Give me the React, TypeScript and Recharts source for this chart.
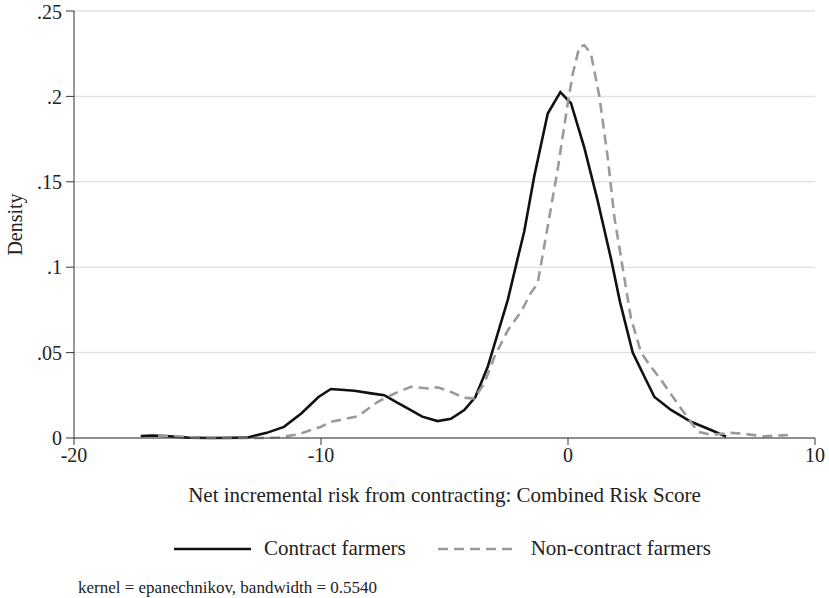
import React from "react";
import {
  LineChart,
  Line,
  XAxis,
  YAxis,
  CartesianGrid,
} from "recharts";

// kernel density, contract farmers
const contractX = [
  -17.3, -16.8, -16.3, -15.4, -14.5, -13.0, -12.2, -11.5, -10.8, -10.1, -9.6,
  -8.65, -7.9, -7.44, -6.95, -6.49, -5.9, -5.28, -4.74, -4.2, -3.75, -3.25,
  -2.85, -2.44, -2.04, -1.77, -1.37, -0.82, -0.31, 0.12, 0.66, 1.2, 1.74, 2.1,
  2.62, 3.09, 3.5, 4.17, 4.98, 5.79, 6.4,
];
const contractY = [
  0.0012, 0.0015, 0.0012, 0.0002, 0, 0.0002, 0.003, 0.0065, 0.0144, 0.024,
  0.0287, 0.0277, 0.026, 0.0251, 0.021, 0.0174, 0.0125, 0.0099, 0.0112, 0.0164,
  0.024, 0.0417, 0.061, 0.0807, 0.105, 0.121, 0.153, 0.19, 0.2025, 0.196, 0.17,
  0.139, 0.105, 0.08, 0.05, 0.036, 0.024, 0.0164, 0.0095, 0.0047, 0.0008,
];

// kernel density, non-contract farmers
const nonContractX = [
  -16.6, -16.0, -15.2, -14.0, -12.5, -11.7, -11.1, -10.8, -10.0, -9.6, -8.5,
  -7.7, -7.03, -6.36, -5.68, -5.28, -4.74, -4.2, -3.79, -3.39, -2.98, -2.44,
  -1.9, -1.5, -1.23, -0.82, -0.42, -0.01, 0.19, 0.46, 0.66, 0.93, 1.27, 1.61,
  1.88, 2.21, 2.55, 2.96, 3.36, 3.77, 4.44, 5.0, 5.25, 5.79, 6.6, 7.1, 7.9, 8.9,
];
const nonContractY = [
  0.0012, 0.0012, 0.0003, 0, 0, 0.0003, 0.0017, 0.0027, 0.0066, 0.0095, 0.0128,
  0.0212, 0.026, 0.03, 0.029, 0.0297, 0.027, 0.0235, 0.0232, 0.032, 0.0475,
  0.063, 0.074, 0.085, 0.0905, 0.124, 0.157, 0.196, 0.213, 0.229, 0.23, 0.225,
  0.2, 0.164, 0.129, 0.1, 0.07, 0.05, 0.0417, 0.034, 0.02, 0.0088, 0.0037,
  0.0018, 0.003, 0.0025, 0.001, 0.0017,
];

const xTicks = [-20, -10, 0, 10];
const yTicks = [0, 0.05, 0.1, 0.15, 0.2, 0.25];

const contractData = contractX.map((x, i) => ({ x, y: contractY[i] }));
const nonContractData = nonContractX.map((x, i) => ({ x, y: nonContractY[i] }));

const font = "'Liberation Serif', 'Times New Roman', serif";
const axisColor = "#333";

// stata style: .05 instead of 0.05
const fmtY = (v: number) => (v === 0 ? "0" : String(v).replace(/^0/, ""));

export default function App() {
  return (
    <div
      style={{
        position: "absolute",
        left: 0,
        top: 0,
        width: 829,
        height: 598,
        background: "#fff",
        fontFamily: font,
      }}
    >
      <LineChart
        width={829}
        height={598}
        margin={{ top: 11, right: 14, left: 0, bottom: 90 }}
      >
        <CartesianGrid vertical={false} stroke="#e2e2e2" strokeWidth={1.5} />
        <XAxis
          dataKey="x"
          type="number"
          domain={[-20, 10]}
          ticks={xTicks}
          allowDuplicatedCategory={false}
          height={70}
          tickSize={7}
          tickMargin={3}
          stroke={axisColor}
          tick={{ fill: "#222", fontSize: 20, fontFamily: font }}
          label={{
            value: "Net incremental risk from contracting: Combined Risk Score",
            position: "insideBottom",
            offset: 6,
            fill: "#222",
            fontSize: 21,
            fontFamily: font,
          }}
        />
        <YAxis
          dataKey="y"
          type="number"
          domain={[0, 0.25]}
          ticks={yTicks}
          width={74}
          tickSize={8}
          tickMargin={4}
          tickFormatter={fmtY}
          stroke={axisColor}
          tick={{ fill: "#222", fontSize: 20, fontFamily: font }}
          label={{
            value: "Density",
            angle: -90,
            position: "center",
            dx: -22,
            fill: "#222",
            fontSize: 20,
            fontFamily: font,
          }}
        />
        <Line
          data={contractData}
          dataKey="y"
          type="linear"
          stroke="#111"
          strokeWidth={2.6}
          dot={false}
          isAnimationActive={false}
        />
        <Line
          data={nonContractData}
          dataKey="y"
          type="linear"
          stroke="#9a9a9a"
          strokeWidth={2.6}
          strokeDasharray="10 6"
          dot={false}
          isAnimationActive={false}
        />
      </LineChart>

      {/* legend */}
      <div
        style={{
          position: "absolute",
          top: 536,
          left: 174,
          display: "flex",
          alignItems: "center",
          fontSize: 21,
          color: "#222",
          whiteSpace: "nowrap",
        }}
      >
        <svg width={77} height={10} style={{ marginRight: 13 }}>
          <line x1={0} y1={5} x2={77} y2={5} stroke="#111" strokeWidth={2.6} />
        </svg>
        <span>Contract farmers</span>
        <svg width={77} height={10} style={{ marginLeft: 32, marginRight: 16 }}>
          <line
            x1={0}
            y1={5}
            x2={77}
            y2={5}
            stroke="#9a9a9a"
            strokeWidth={2.6}
            strokeDasharray="10 6"
          />
        </svg>
        <span>Non-contract farmers</span>
      </div>

      {/* note */}
      <div
        style={{
          position: "absolute",
          top: 578,
          left: 78,
          fontSize: 17,
          color: "#222",
        }}
      >
        kernel = epanechnikov, bandwidth = 0.5540
      </div>
    </div>
  );
}
